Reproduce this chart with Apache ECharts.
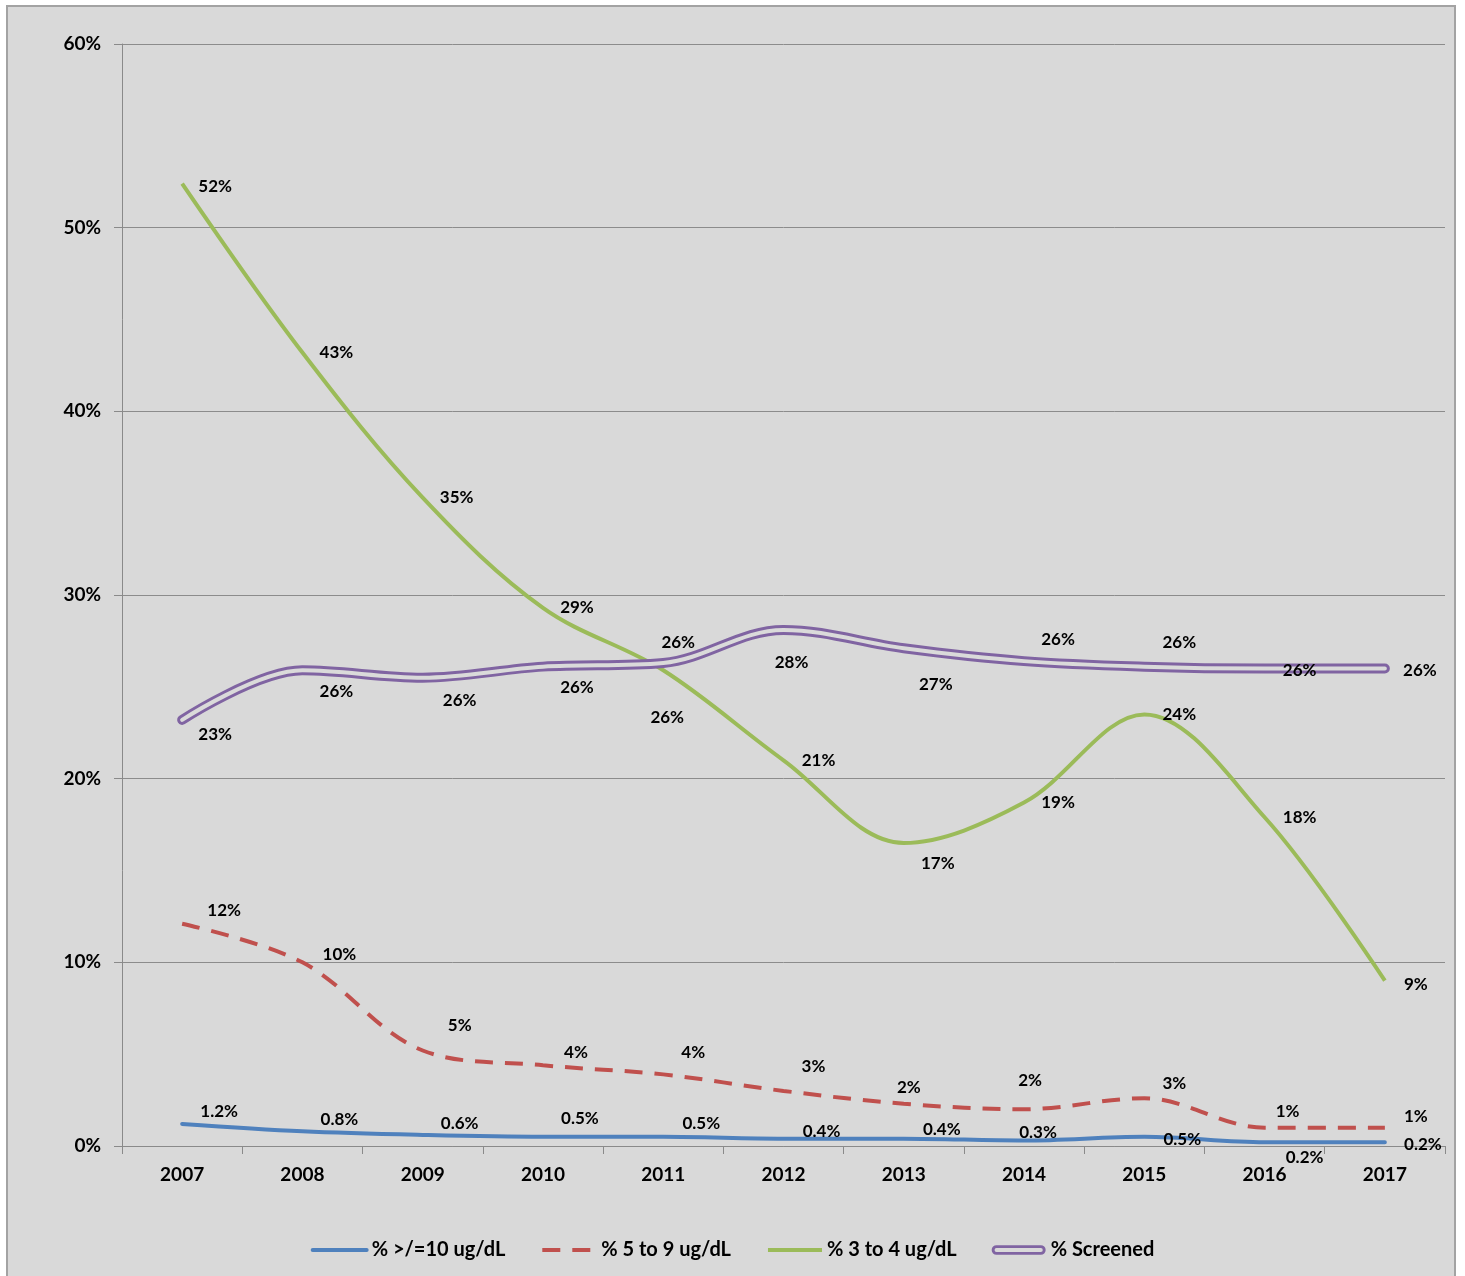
<!DOCTYPE html>
<html>
<head>
<meta charset="utf-8">
<script src="https://cdn.jsdelivr.net/npm/echarts@6/dist/echarts.min.js"></script>
<style>
  html, body { margin: 0; padding: 0; background: #ffffff; }
  #frame {
    position: absolute; left: 6px; top: 5px; width: 1450px; height: 1290px;
    background: #d9d9d9; border: 2px solid #a3a3a3; box-sizing: border-box;
  }
  #chart { position: absolute; left: 0; top: 0; width: 1465px; height: 1276px; }
</style>
</head>
<body>
<div id="frame"></div>
<div id="chart"></div>
<script>
// Reporting years
const years = ['2007', '2008', '2009', '2010', '2011', '2012', '2013', '2014', '2015', '2016', '2017'];

// Percent of children in each blood lead range, and percent screened
const pctAtLeast10 = [1.2, 0.8, 0.6, 0.5, 0.5, 0.4, 0.4, 0.3, 0.5, 0.2, 0.2];
const pct5to9      = [12.1, 10.0, 5.2, 4.4, 3.9, 3.0, 2.3, 2.0, 2.6, 1.0, 1.0];
const pct3to4      = [52.4, 43.2, 35.3, 29.3, 25.9, 21.0, 16.5, 18.7, 23.5, 17.9, 9.0];
const pctScreened  = [23.2, 25.9, 25.5, 26.1, 26.3, 28.1, 27.1, 26.4, 26.1, 26.0, 26.0];

// Y-axis ticks (percent)
const yTicks = [0, 10, 20, 30, 40, 50, 60];

// Label nudges (px) from each point, per series
const offsAtLeast10 = [[37,-12],[37,-12],[37,-11],[37,-18],[38,-13],[38,-7],[38,-9],[14,-8],[38,3],[40,15],[38,2]];
const offs5to9      = [[42,-13],[37,-8],[37,-25],[33,-13],[30,-22],[30,-24],[5,-16],[6,-29],[30,-15],[23,-16],[31,-11]];
const offs3to4      = [[33,3],[34,0],[34,0],[34,0],[4,47],[35,0],[34,21],[34,0],[35,0],[35,0],[31,4]];
const offsScreened  = [[33,15],[34,21],[37,23],[34,21],[15,-20],[8,33],[32,36],[34,-22],[35,-24],[35,2],[35,2]];

const FONT = 'Lato, "Open Sans", "DejaVu Sans", sans-serif';

function withLabels(values, offsets, fmt) {
  return values.map((v, i) => ({
    value: v,
    label: { offset: offsets[i], formatter: () => fmt(v) }
  }));
}
const fmtInt = v => Math.round(v) + '%';
const fmtOne = v => v.toFixed(1) + '%';

const labelBase = {
  show: true, position: 'inside', color: '#000',
  fontFamily: FONT, fontWeight: 'bold', fontSize: 17
};

const chart = echarts.init(document.getElementById('chart'), null, { renderer: 'canvas' });

const option = {
  animation: false,
  backgroundColor: 'transparent',
  grid: { left: 122, right: 20, top: 44, bottom: 130, containLabel: false },
  legend: {
    left: 'center', top: 1235,
    itemWidth: 54, itemHeight: 10, itemGap: 35,
    textStyle: { fontFamily: FONT, fontWeight: 'bold', fontSize: 20, color: '#000' },
    lineStyle: { width: 4 },
    data: [
      { name: '% >/=10 ug/dL', itemStyle: { opacity: 0 } },
      { name: '% 5 to 9 ug/dL', itemStyle: { opacity: 0 } },
      { name: '% 3 to 4 ug/dL', itemStyle: { opacity: 0 } },
      { name: '% Screened',
        icon: 'path://M5,0H51A5,5 0 0 1 51,10H5A5,5 0 0 1 5,0Z M5,3A2,2 0 0 0 5,7H51A2,2 0 0 0 51,3Z' }
    ]
  },
  xAxis: {
    type: 'category',
    data: years,
    boundaryGap: true,
    axisLine: { show: true, lineStyle: { color: '#8a8a8a', width: 1 } },
    axisTick: { show: true, length: 8, lineStyle: { color: '#8a8a8a' } },
    axisLabel: { color: '#000', fontFamily: FONT, fontWeight: 'bold', fontSize: 19, margin: 19 },
    splitLine: { show: false }
  },
  yAxis: {
    type: 'value',
    min: yTicks[0], max: yTicks[yTicks.length - 1], interval: 10,
    axisLine: { show: true, lineStyle: { color: '#8a8a8a', width: 1 } },
    axisTick: { show: true, length: 8, lineStyle: { color: '#8a8a8a' } },
    axisLabel: { color: '#000', fontFamily: FONT, fontWeight: 'bold', fontSize: 19, margin: 21,
                 formatter: '{value}%' },
    splitLine: { show: true, lineStyle: { color: '#8c8c8c', width: 1 } }
  },
  series: [
    {
      name: '% >/=10 ug/dL', type: 'line', smooth: 0.35,
      symbol: 'circle', symbolSize: 0,
      itemStyle: { color: '#4f81bd' },
      lineStyle: { color: '#4f81bd', width: 4, cap: 'round' },
      label: labelBase,
      data: withLabels(pctAtLeast10, offsAtLeast10, fmtOne)
    },
    {
      name: '% 5 to 9 ug/dL', type: 'line', smooth: 0.35,
      symbol: 'circle', symbolSize: 0,
      itemStyle: { color: '#c0504d' },
      lineStyle: { color: '#c0504d', width: 4, type: [18, 12] },
      label: labelBase,
      data: withLabels(pct5to9, offs5to9, fmtInt)
    },
    {
      name: '% 3 to 4 ug/dL', type: 'line', smooth: 0.35,
      symbol: 'circle', symbolSize: 0,
      itemStyle: { color: '#9bbb59' },
      lineStyle: { color: '#9bbb59', width: 4 },
      label: labelBase,
      data: withLabels(pct3to4, offs3to4, fmtInt)
    },
    {
      // outer stroke of the double line
      name: '% Screened', type: 'line', smooth: 0.35,
      symbol: 'circle', symbolSize: 0,
      itemStyle: { color: '#8064a2' },
      lineStyle: { color: '#8064a2', width: 10, cap: 'round', join: 'round' },
      label: labelBase,
      data: withLabels(pctScreened, offsScreened, fmtInt),
      z: 3
    },
    {
      // inner gap of the double line
      name: '% Screened', type: 'line', smooth: 0.35,
      symbol: 'none',
      itemStyle: { color: '#8064a2' },
      lineStyle: { color: '#dadada', width: 4, cap: 'round', join: 'round' },
      label: { show: false },
      data: pctScreened,
      z: 3
    }
  ]
};

chart.setOption(option);
</script>
</body>
</html>
